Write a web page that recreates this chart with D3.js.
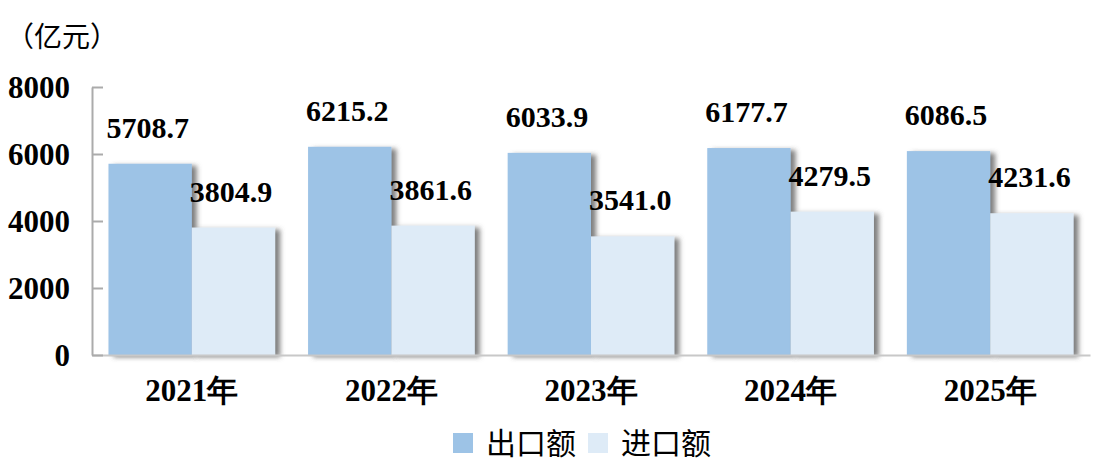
<!DOCTYPE html>
<html>
<head>
<meta charset="utf-8">
<script src="https://cdn.jsdelivr.net/npm/d3@7"></script>
<style>
  body { margin: 0; background: #fff; }
  svg { display: block; }
</style>
</head>
<body>
<svg id="chart"></svg>
<script>
let width = 1095;
let height = 467;
let margin = { top: 87, right: 5, bottom: 112, left: 92 };

// data
const years = ['2021年', '2022年', '2023年', '2024年', '2025年'];
const exportValues = [5708.7, 6215.2, 6033.9, 6177.7, 6086.5];
const importValues = [3804.9, 3861.6, 3541.0, 4279.5, 4231.6];
const seriesNames = ['出口额', '进口额'];
const yTicks = [0, 2000, 4000, 6000, 8000];

const COLORS = ['#9DC3E6', '#DEEBF7'];
const NUM_FONT = '"Liberation Serif", "Times New Roman", serif';
const CJK_FONT = '"Noto Sans CJK SC", "Liberation Serif", serif';

let svg = d3.select('#chart')
  .attr('width', width)
  .attr('height', height);

let defs = svg.append('defs');
defs.append('filter')
  .attr('id', 'shadow')
  .attr('x', '-20%').attr('y', '-20%')
  .attr('width', '150%').attr('height', '140%')
  .append('feDropShadow')
    .attr('dx', 5)
    .attr('dy', 2)
    .attr('stdDeviation', 2.5)
    .attr('flood-color', '#555')
    .attr('flood-opacity', 0.75);

let x = d3.scaleBand()
  .domain(years)
  .range([margin.left, width - margin.right])
  .paddingInner(0.165)
  .paddingOuter(0.0825);

let x1 = d3.scaleBand()
  .domain([0, 1])
  .range([0, x.bandwidth()]);

let y = d3.scaleLinear()
  .domain([0, 8000])
  .range([height - margin.bottom, margin.top]);

let rows = years.map((yr, i) => ({ year: yr, values: [exportValues[i], importValues[i]] }));

let groups = svg.append('g')
  .selectAll('g')
  .data(rows)
  .join('g')
    .attr('transform', d => `translate(${x(d.year)},0)`);

groups.selectAll('rect')
  .data(d => d.values.map((v, k) => ({ v, k })))
  .join('rect')
    .attr('x', d => x1(d.k))
    .attr('y', d => y(d.v))
    .attr('width', x1.bandwidth())
    .attr('height', d => y(0) - y(d.v))
    .attr('fill', d => COLORS[d.k])
    .attr('filter', 'url(#shadow)');

groups.selectAll('text.val')
  .data(d => d.values.map((v, k) => ({ v, k })))
  .join('text')
    .attr('class', 'val')
    .attr('x', d => x1(d.k) - 2)
    .attr('y', d => y(d.v) - 26)
    .attr('font-family', NUM_FONT)
    .attr('font-weight', 'bold')
    .attr('font-size', 30)
    .attr('fill', '#000')
    .text(d => d.v.toFixed(1));

// axes
let axisColor = '#ABABAB';

let yAxis = g => g
  .attr('transform', `translate(${margin.left},0)`)
  .call(d3.axisLeft(y).tickValues(yTicks).tickFormat(d3.format('d'))
    .tickSize(-11).tickPadding(22).tickSizeOuter(0))
  .call(g => g.select('.domain').attr('stroke', axisColor).attr('stroke-width', 2))
  .call(g => g.selectAll('.tick line').attr('stroke', axisColor).attr('stroke-width', 2))
  .call(g => g.selectAll('.tick text')
    .attr('font-family', NUM_FONT)
    .attr('font-weight', 'bold')
    .attr('font-size', 31)
    .attr('fill', '#000')
    .attr('dy', '0.34em'));

let xAxis = g => g
  .attr('transform', `translate(0,${y(0)})`)
  .call(d3.axisBottom(x).tickSize(0).tickPadding(24).tickSizeOuter(0))
  .call(g => g.select('.domain').attr('stroke', '#C8C8C8').attr('stroke-width', 2))
  .call(g => g.selectAll('.tick text')
    .attr('font-family', NUM_FONT)
    .attr('font-weight', 'bold')
    .attr('font-size', 31)
    .attr('fill', '#000'));

svg.append('g').call(xAxis);
svg.append('g').call(yAxis);

// unit label
svg.append('text')
  .attr('x', 6)
  .attr('y', 47)
  .attr('font-family', CJK_FONT)
  .attr('font-size', 28)
  .attr('fill', '#000')
  .text('（亿元）');

// legend
let legendX = [453, 588];
let legend = svg.append('g')
  .selectAll('g')
  .data(seriesNames)
  .join('g')
    .attr('transform', (d, i) => `translate(${legendX[i]},433)`);

legend.append('rect')
  .attr('width', 20)
  .attr('height', 20)
  .attr('fill', (d, i) => COLORS[i]);

legend.append('text')
  .attr('x', 33)
  .attr('y', 21)
  .attr('font-family', CJK_FONT)
  .attr('font-size', 30)
  .attr('fill', '#000')
  .text(d => d);
</script>
</body>
</html>
